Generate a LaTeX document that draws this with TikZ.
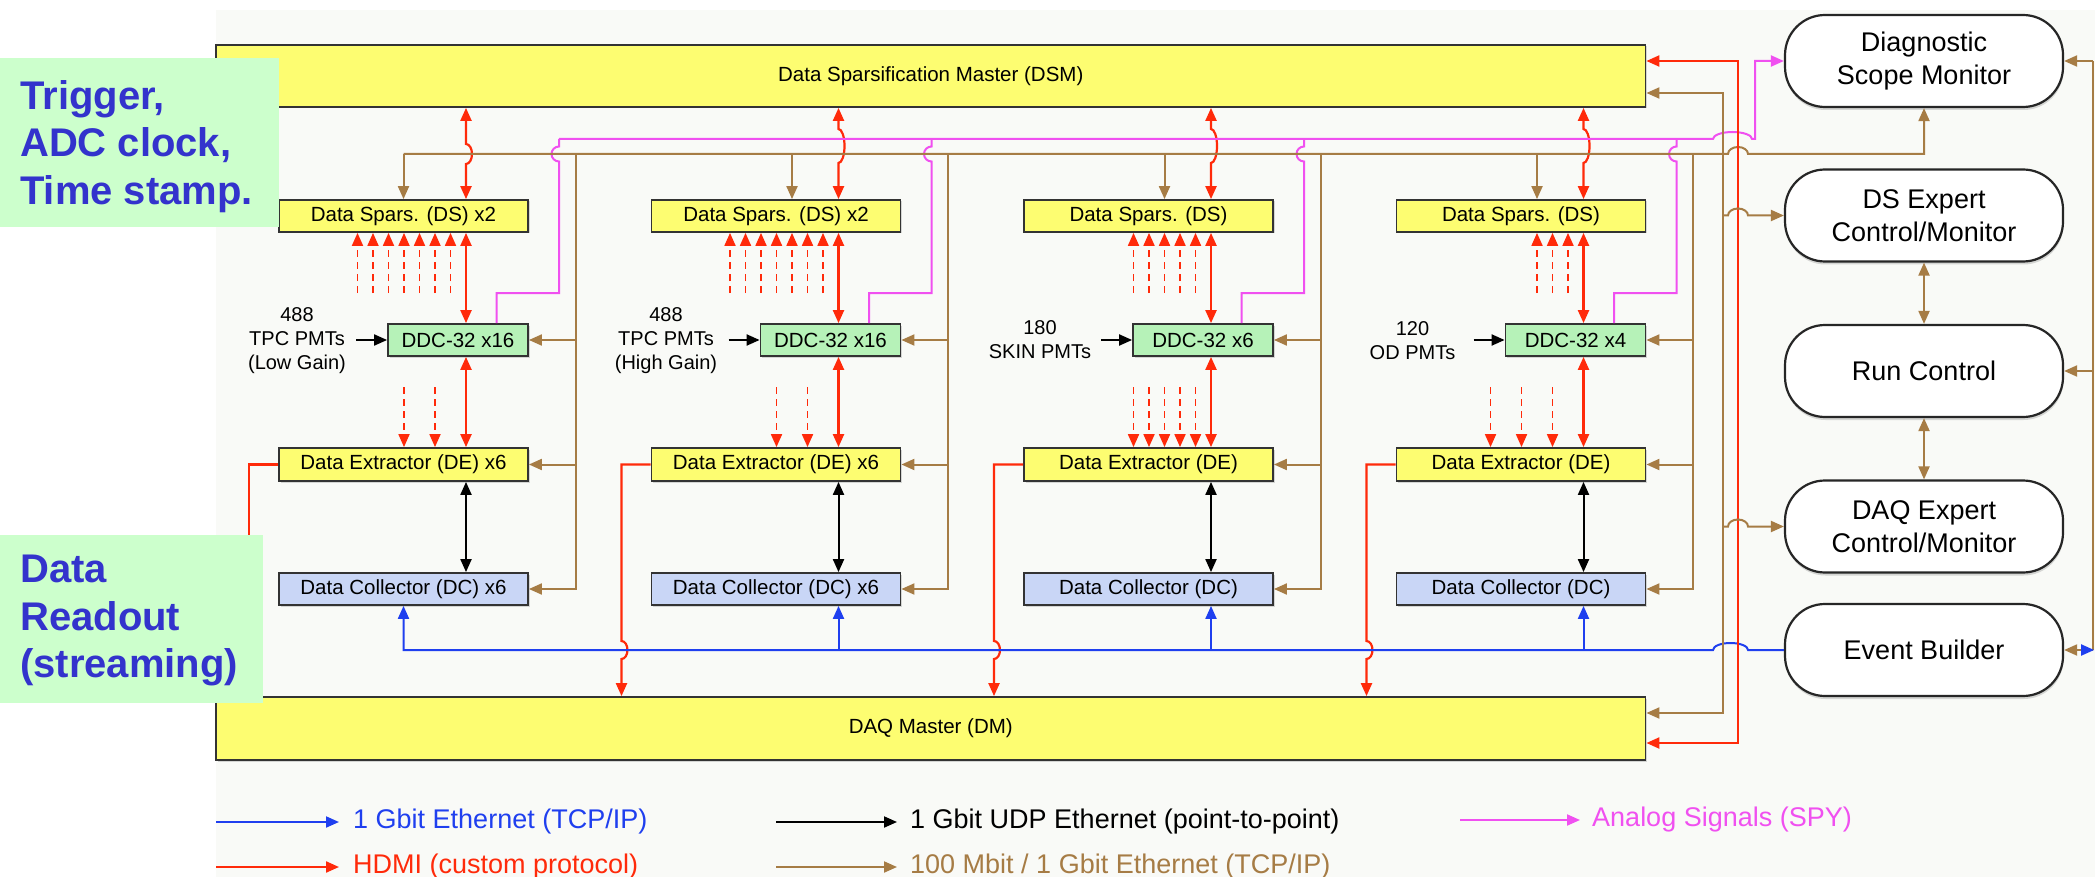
\documentclass[tikz,border=0pt]{standalone}
\usepackage{fontspec}
\setmainfont{Liberation Sans}
\usetikzlibrary{arrows.meta,shadows}

\definecolor{boxyellow}{HTML}{FDFD71}
\definecolor{ddcgreen}{HTML}{B6F2B8}
\definecolor{dcblue}{HTML}{C9D6F6}
\definecolor{notegreen}{HTML}{CCFFCC}
\definecolor{noteblue}{HTML}{3333CC}
\definecolor{hred}{HTML}{FF2A0A}
\definecolor{hbrown}{HTML}{A67C45}
\definecolor{hpink}{HTML}{F050F0}
\definecolor{hblue}{HTML}{1F3FEF}
\definecolor{paper}{HTML}{F9FAF7}

\begin{document}
\begin{tikzpicture}[x=1pt,y=-1pt,
  >={Triangle[length=13pt,width=11pt]},
  blk/.style={draw=black!80,line width=1.8pt,inner sep=0pt,minimum height=32pt,
    font=\fontsize{20.5}{24}\selectfont,
    drop shadow={opacity=0.3,shadow xshift=1.5pt,shadow yshift=-1.5pt}},
  dsbox/.style={blk,fill=boxyellow,minimum width=249pt},
  ddcbox/.style={blk,fill=ddcgreen,minimum width=140pt},
  debox/.style={blk,fill=boxyellow,minimum width=249pt,minimum height=33pt},
  dcbox/.style={blk,fill=dcblue,minimum width=249pt},
  master/.style={blk,fill=boxyellow,minimum width=1429.5pt,minimum height=62pt},
  ctrl/.style={draw=black!85,line width=2.2pt,rounded corners=40pt,fill=white,
    minimum width=278pt,minimum height=92pt,align=center,inner sep=0pt,
    font=\fontsize{27}{33}\selectfont,
    drop shadow={opacity=0.3,shadow xshift=0.5pt,shadow yshift=-3pt}},
  pmt/.style={align=center,font=\fontsize{20}{24}\selectfont,inner sep=0pt},
  notebox/.style={fill=notegreen,inner sep=0pt,anchor=north west},
  notetext/.style={text=noteblue,align=left,inner sep=0pt,anchor=north west,
    font=\fontsize{40}{47.5}\selectfont\bfseries},
  legtext/.style={anchor=west,inner sep=0pt,font=\fontsize{27}{32}\selectfont},
  wire/.style={line width=2pt},
  hdmi/.style={wire,draw=hred,line width=2.2pt},
  eth/.style={wire,draw=hbrown},
  udp/.style={wire,draw=black},
  gig/.style={wire,draw=hblue},
  spy/.style={wire,draw=hpink},
  fan/.style={draw=hred,line width=1.8pt,dash pattern=on 7pt off 5pt},
]
\useasboundingbox (0,0) rectangle (2095,877);
\fill[paper] (216,10) rectangle (2095,877);

% masters
\node[master] (dsm) at (930.75,76) {Data Sparsification Master (DSM)};
\node[master,minimum height=63pt] (dm) at (930.75,728.5) {DAQ Master (DM)};

% control side
\node[ctrl] (diag) at (1924,61) {Diagnostic\\Scope Monitor};
\node[ctrl] (dsx) at (1924,215.5) {DS Expert\\Control/Monitor};
\node[ctrl] (run) at (1924,371) {Run Control};
\node[ctrl] (daqx) at (1924,526.5) {DAQ Expert\\Control/Monitor};
\node[ctrl] (eb) at (1924,650) {Event Builder};

% PMT inputs
\node[pmt] (in1) at (297,341) {488\\TPC PMTs\\(Low Gain)};
\node[pmt] (in2) at (666,341) {488\\TPC PMTs\\(High Gain)};
\node[pmt] (in3) at (1040,340) {180\\SKIN PMTs};
\node[pmt] (in4) at (1412.5,340.5) {120\\OD PMTs};

% the four readout columns
\foreach \col/\lft/\bx/\blx/\nup/\lks/\hcen/\hrad/\dsl/\ddcl/\del/\dcl in {
 1/279/403.5/403.5/7/{2,4}/154/10/{Data Spars. (DS) x2}/{DDC-32 x16}/{Data Extractor (DE) x6}/{Data Collector (DC) x6},
 2/651.5/792/838.5/7/{2,4}/146/17/{Data Spars. (DS) x2}/{DDC-32 x16}/{Data Extractor (DE) x6}/{Data Collector (DC) x6},
 3/1024/1164.5/1211/5/{1,2,3,4,5}/146/17/{Data Spars. (DS)}/{DDC-32 x6}/{Data Extractor (DE)}/{Data Collector (DC)},
 4/1396.5/1537/1583.5/3/{2,4,6}/146/17/{Data Spars. (DS)}/{DDC-32 x4}/{Data Extractor (DE)}/{Data Collector (DC)}}
{
  \pgfmathsetmacro\rgt{\lft+249}
  \pgfmathsetmacro\hs{\hcen-\hrad}
  \pgfmathsetmacro\pxr{\rgt+31}
  \node[dsbox] (ds\col) at (\lft+124.5,216) {\dsl};
  \node[ddcbox] (ddc\col) at (\rgt-70,340) {\ddcl};
  \node[debox] (de\col) at (\lft+124.5,464.5) {\del};
  \node[dcbox] (dc\col) at (\lft+124.5,589) {\dcl};
  \coordinate (rx\col) at (\rgt-62,0);
  \coordinate (bx\col) at (\bx,154);
  \coordinate (bv\col) at (\rgt+47.5,154);
  \coordinate (px\col) at (\rgt-31.5,293);
  \coordinate (pt\col) at (\pxr,139);
  \coordinate (dl\col) at (\lft-30,641);
  \coordinate (bl\col) at (\blx,650);
  % DSM <-> DS
  \draw[hdmi,<->] (dsm.south -| rx\col) -- (rx\col |- 0,\hs)
     arc[start angle=90,end angle=-90,x radius=6pt,y radius=\hrad pt]
     -- (ds\col.north -| rx\col);
  % channel fan-in to DS
  \foreach \kk in {1,...,\nup} {
    \coordinate (f) at (\rgt-62-15.5*\kk,293);
    \draw[fan,->] (f) -- (f |- ds\col.south);
  }
  % channel fan-out to DE
  \foreach \kk in \lks {
    \coordinate (g) at (\rgt-62-15.5*\kk,387);
    \draw[fan,->] (g) -- (g |- de\col.north);
  }
  \draw[hdmi,<->] (ds\col.south -| rx\col) -- (ddc\col.north -| rx\col);
  \draw[hdmi,<->] (ddc\col.south -| rx\col) -- (de\col.north -| rx\col);
  \draw[udp,<->] (de\col.south -| rx\col) -- (dc\col.north -| rx\col);
  \draw[udp,->] ([xshift=-31pt]ddc\col.west) -- (ddc\col.west);
  % spy output
  \draw[spy] (ddc\col.north -| px\col) -- (px\col) -- (\pxr,293) -- (\pxr,161.5)
     arc[start angle=-90,end angle=-270,radius=7.5pt] -- (pt\col);
  % ethernet drops
  \draw[eth,->] (bx\col) -- (bx\col |- ds\col.north);
  \draw[eth,->] (bv\col) |- (dc\col.east);
  \draw[eth,->] (bv\col |- ddc\col.east) -- (ddc\col.east);
  \draw[eth,->] (bv\col |- de\col.east) -- (de\col.east);
  % DE -> DM
  \ifnum\col=1
    \draw[hdmi,->] (de\col.west) -| (dl\col |- dm.north);
  \else
    \draw[hdmi,->] (de\col.west) -| (dl\col)
       arc[start angle=90,end angle=-90,x radius=6pt,y radius=9pt]
       -- (dl\col |- dm.north);
    \draw[gig,->] (bl\col) -- (bl\col |- dc\col.south);
  \fi
}

% buses
\draw[eth,->] (bx1) -- (1728,154)
   arc[start angle=180,end angle=0,x radius=10pt,y radius=7pt]
   -- (diag.south |- 0,154) -- (diag.south);
\draw[spy,->] (pt1) -- (1713,139)
   arc[start angle=180,end angle=0,x radius=19.5pt,y radius=7pt]
   -- (1755,139) |- (diag.west);
\draw[gig,->] (eb.west) -- (1748,650)
   arc[start angle=0,end angle=180,x radius=17.5pt,y radius=7pt]
   -- (bl1) -- (bl1 |- dc1.south);

% master links
\coordinate (rt) at (1738,61);
\coordinate (rb) at (1738,743);
\draw[hdmi,<->] (rt -| dsm.east) -- (rt) -- (rb) -- (rb -| dm.east);
\coordinate (bt) at (1723,93);
\coordinate (bb) at (1723,713);
\draw[eth,<->] (bt -| dsm.east) -- (bt) -- (bb) -- (bb -| dm.east);
\draw[eth,->] (bt |- dsx.west) -- ++(5,0)
   arc[start angle=180,end angle=0,x radius=10pt,y radius=7pt] -- (dsx.west);
\draw[eth,->] (bt |- daqx.west) -- ++(5,0)
   arc[start angle=180,end angle=0,x radius=10pt,y radius=7pt] -- (daqx.west);

% control links
\draw[eth,<->] (dsx.south) -- (run.north);
\draw[eth,<->] (run.south) -- (daqx.north);
\coordinate (re) at (2093,61);
\draw[eth] (re) -- (re |- eb.east);
\draw[eth,->] (re) -- (diag.east);
\draw[eth,->] (re |- run.east) -- (run.east);
\draw[eth,->] (re |- eb.east) -- (eb.east);
\draw[gig,->] ([xshift=17pt]eb.east) -- ++(13,0);

% legend
\node[legtext,text=hblue] (lg1) at (353,822) {1 Gbit Ethernet (TCP/IP)};
\node[legtext,text=hred] (lg2) at (353,867) {HDMI (custom protocol)};
\node[legtext,text=black] (lg3) at (910,822) {1 Gbit UDP Ethernet (point-to-point)};
\node[legtext,text=hbrown] (lg4) at (910,867) {100 Mbit / 1 Gbit Ethernet (TCP/IP)};
\node[legtext,text=hpink] (lg5) at (1592,820) {Analog Signals (SPY)};
\draw[gig,->] ([xshift=-137pt]lg1.west) -- ([xshift=-14pt]lg1.west);
\draw[hdmi,->] ([xshift=-137pt]lg2.west) -- ([xshift=-14pt]lg2.west);
\draw[udp,->] ([xshift=-134pt]lg3.west) -- ([xshift=-13pt]lg3.west);
\draw[eth,->] ([xshift=-134pt]lg4.west) -- ([xshift=-13pt]lg4.west);
\draw[spy,->] ([xshift=-132pt]lg5.west) -- ([xshift=-12pt]lg5.west);

% side notes
\node[notebox,minimum width=279pt,minimum height=169pt] (trigbox) at (0,58) {};
\node[notetext] (trig) at (20,80) {Trigger,\\ADC clock,\\Time stamp.};
\node[notebox,minimum width=263pt,minimum height=168pt] (readbox) at (0,535) {};
\node[notetext] (read) at (20,555) {Data\\Readout\\(streaming)};
\end{tikzpicture}
\end{document}
